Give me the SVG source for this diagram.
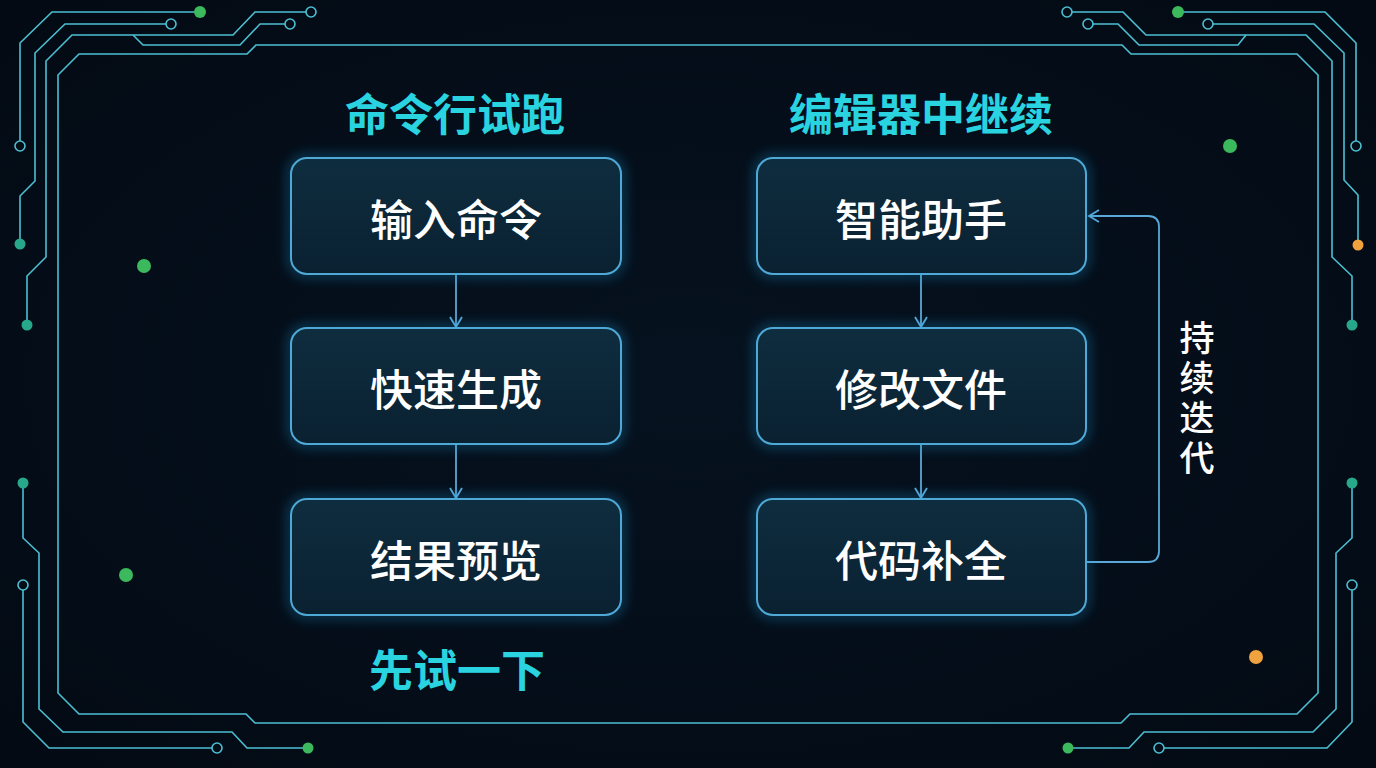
<svg xmlns="http://www.w3.org/2000/svg" width="1376" height="768" viewBox="0 0 1376 768">
<defs>
<style>
.trace{fill:none;stroke:#4cc0d2;stroke-width:1.6;stroke-linejoin:miter}
.hole{fill:#050d18;stroke:#4cc0d2;stroke-width:1.6}
.dg{fill:#3cb95c}
.dt{fill:#27a88a}
.do{fill:#f0a23e}
.box{fill:url(#boxg);stroke:#4ea9d6;stroke-width:2}
.glow{fill:none;stroke:#1aa0e0;stroke-width:8;opacity:0.35;filter:url(#blur)}
.lbl{font-family:"Noto Sans CJK SC","Noto Sans",sans-serif;font-size:43px;font-weight:500;fill:#ffffff;text-anchor:middle;dominant-baseline:central}
.ttl{font-family:"Noto Sans CJK SC","Noto Sans",sans-serif;font-size:44px;font-weight:700;fill:#2ad3e0;text-anchor:middle;dominant-baseline:central}
.side{font-family:"Noto Sans CJK SC","Noto Sans",sans-serif;font-size:35px;font-weight:500;fill:#ffffff;writing-mode:vertical-rl;letter-spacing:5px}
.conn{fill:none;stroke:#5aa8d8;stroke-width:1.8}
</style>
<linearGradient id="boxg" x1="0" y1="0" x2="0" y2="1">
<stop offset="0" stop-color="#0e2d3f"/>
<stop offset="1" stop-color="#0a2131"/>
</linearGradient>
<radialGradient id="bg" cx="0.5" cy="0.5" r="0.7">
<stop offset="0" stop-color="#06121f"/>
<stop offset="1" stop-color="#030a14"/>
</radialGradient>
<filter id="blur" x="-20%" y="-20%" width="140%" height="140%"><feGaussianBlur stdDeviation="6"/></filter>
<marker id="arr" markerWidth="14" markerHeight="14" refX="12" refY="7" orient="auto" markerUnits="userSpaceOnUse">
<path d="M2,1 L12,7 L2,13" fill="none" stroke="#5aa8d8" stroke-width="1.8"/>
</marker>
</defs>
<rect x="0" y="0" width="1376" height="768" fill="url(#bg)"/>

<g id="circuit">
<path class="trace" d="M256,45 H1122 L1131,54 H1297 L1318,75 V693 L1297,714 H1130 L1121,723 H255 L246,714 H79 L58,693 V75 L79,54 H247 Z"/>
<path class="trace" d="M20,141 V43 L52,12 H200"/>
<path class="trace" d="M20,244 V196 L35,181 V53 L65,24 H166"/>
<path class="trace" d="M27,325 V276 L46,257 V61 L72,35 H233 L255,12 H306"/>
<path class="trace" d="M133,35 L143,45 H240 L260,24 H285"/>
<path class="trace" d="M1356,141 V43 L1325,12 H1178"/>
<path class="trace" d="M1358,245 V195 L1344,180 V53 L1314,24 H1213"/>
<path class="trace" d="M1352,325 V276 L1332,257 V61 L1306,35 H1146 L1123,12 H1072"/>
<path class="trace" d="M1246,35 L1238,45 H1139 L1118,24 H1093"/>
<path class="trace" d="M23,590 V722 L49,748 H212"/>
<path class="trace" d="M23,483 V538 L39,553 V709 L63,732 H232 L247,748 H308"/>
<path class="trace" d="M1352,590 V722 L1327,748 H1164"/>
<path class="trace" d="M1352,483 V538 L1336,553 V709 L1313,732 H1144 L1129,748 H1068"/>
<circle class="hole" cx="20" cy="146" r="5"/>
<circle class="hole" cx="171" cy="24" r="5"/>
<circle class="hole" cx="290" cy="24" r="5"/>
<circle class="hole" cx="311" cy="12" r="5"/>
<circle class="hole" cx="1356" cy="146" r="5"/>
<circle class="hole" cx="1208" cy="24" r="5"/>
<circle class="hole" cx="1088" cy="24" r="5"/>
<circle class="hole" cx="1067" cy="12" r="5"/>
<circle class="hole" cx="23" cy="585" r="5"/>
<circle class="hole" cx="217" cy="748" r="5"/>
<circle class="hole" cx="1352" cy="585" r="5"/>
<circle class="hole" cx="1159" cy="748" r="5"/>
<circle class="dg" cx="200" cy="12" r="6"/>
<circle class="dg" cx="1178" cy="12" r="6"/>
<circle class="dg" cx="308" cy="748" r="5.5"/>
<circle class="dg" cx="1068" cy="748" r="5.5"/>
<circle class="dg" cx="144" cy="266" r="7"/>
<circle class="dg" cx="126" cy="575" r="7"/>
<circle class="dg" cx="1230" cy="146" r="7"/>
<circle class="dt" cx="20" cy="244" r="5.5"/>
<circle class="dt" cx="27" cy="325" r="5.5"/>
<circle class="dt" cx="23" cy="483" r="5.5"/>
<circle class="dt" cx="1352" cy="325" r="5.5"/>
<circle class="dt" cx="1352" cy="483" r="5.5"/>
<circle class="do" cx="1358" cy="245" r="5.5"/>
<circle class="do" cx="1256" cy="657" r="7"/>
</g>

<g id="titles">
<text class="ttl" x="455" y="112">命令行试跑</text>
<text class="ttl" x="921" y="112">编辑器中继续</text>
<text class="ttl" x="457" y="668">先试一下</text>
</g>

<g id="connectors">
<line class="conn" x1="456" y1="275" x2="456" y2="327" marker-end="url(#arr)"/>
<line class="conn" x1="456" y1="445" x2="456" y2="498" marker-end="url(#arr)"/>
<line class="conn" x1="921" y1="275" x2="921" y2="327" marker-end="url(#arr)"/>
<line class="conn" x1="921" y1="445" x2="921" y2="498" marker-end="url(#arr)"/>
<path class="conn" d="M1087,562 H1148 Q1159,562 1159,551 V227 Q1159,216 1148,216 H1089" marker-end="url(#arr)"/>
</g>

<g id="n1"><rect class="glow" x="291" y="158" width="330" height="116" rx="16"/><rect class="box" x="291" y="158" width="330" height="116" rx="16"/><text class="lbl" x="456" y="217">输入命令</text></g>
<g id="n2"><rect class="glow" x="291" y="328" width="330" height="116" rx="16"/><rect class="box" x="291" y="328" width="330" height="116" rx="16"/><text class="lbl" x="456" y="387">快速生成</text></g>
<g id="n3"><rect class="glow" x="291" y="499" width="330" height="116" rx="16"/><rect class="box" x="291" y="499" width="330" height="116" rx="16"/><text class="lbl" x="456" y="558">结果预览</text></g>
<g id="n4"><rect class="glow" x="757" y="158" width="329" height="116" rx="16"/><rect class="box" x="757" y="158" width="329" height="116" rx="16"/><text class="lbl" x="921" y="217">智能助手</text></g>
<g id="n5"><rect class="glow" x="757" y="328" width="329" height="116" rx="16"/><rect class="box" x="757" y="328" width="329" height="116" rx="16"/><text class="lbl" x="921" y="387">修改文件</text></g>
<g id="n6"><rect class="glow" x="757" y="499" width="329" height="116" rx="16"/><rect class="box" x="757" y="499" width="329" height="116" rx="16"/><text class="lbl" x="921" y="558">代码补全</text></g>

<g id="loop-label">
<text class="side" x="1197" y="320">持续迭代</text>
</g>
</svg>
